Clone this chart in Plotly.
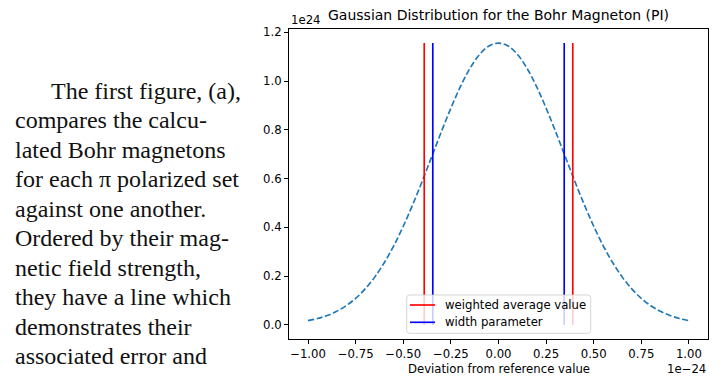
import plotly.graph_objects as go

# ---------------- data (deviation in units of 1e-24, density in units of 1e24) -------------
dev_x = [-1.00, -0.95, -0.90, -0.85, -0.80, -0.75, -0.70, -0.65, -0.60, -0.55, -0.50,
         -0.45, -0.40, -0.35, -0.30, -0.25, -0.20, -0.15, -0.10, -0.05, 0.00,
         0.05, 0.10, 0.15, 0.20, 0.25, 0.30, 0.35, 0.40, 0.45, 0.50,
         0.55, 0.60, 0.65, 0.70, 0.75, 0.80, 0.85, 0.90, 0.95, 1.00]
density = [0.0173, 0.0261, 0.0385, 0.0556, 0.0786, 0.1088, 0.1476, 0.1959, 0.2548, 0.3244, 0.4045,
           0.4938, 0.5902, 0.6910, 0.7921, 0.8890, 0.9772, 1.0517, 1.1084, 1.1439, 1.1555,
           1.1439, 1.1084, 1.0517, 0.9772, 0.8890, 0.7921, 0.6910, 0.5902, 0.4938, 0.4045,
           0.3244, 0.2548, 0.1959, 0.1476, 0.1088, 0.0786, 0.0556, 0.0385, 0.0261, 0.0173]
weighted_avg = [-0.39, 0.39]
width_param = [-0.345, 0.345]
line_top = 1.1555

x_ticks = [-1.00, -0.75, -0.50, -0.25, 0.00, 0.25, 0.50, 0.75, 1.00]
x_tick_labels = ["\u22121.00", "\u22120.75", "\u22120.50", "\u22120.25", "0.00", "0.25", "0.50", "0.75", "1.00"]
y_ticks = [0.0, 0.2, 0.4, 0.6, 0.8, 1.0, 1.2]
y_tick_labels = ["0.0", "0.2", "0.4", "0.6", "0.8", "1.0", "1.2"]

title_text = "Gaussian Distribution for the Bohr Magneton (PI)"
xlabel_text = "Deviation from reference value"
legend_labels = ["weighted average value", "width parameter"]
body_lines = [
    "The first figure, (a),",
    "compares the calcu-",
    "lated Bohr magnetons",
    "for each \u03c0 polarized set",
    "against one another.",
    "Ordered by their mag-",
    "netic field strength,",
    "they have a line which",
    "demonstrates their",
    "associated error and",
]

# ---------------- layout geometry ----------------
W, H = 723, 377
L, R, T, B = 289, 15, 29, 38
PW, PH = W - L - R, H - T - B
FS = 11.7  # base sans font size


def px(x):
    return (x - L) / PW


def py(y):
    return (H - B - y) / PH


def vseg(xs, y0, y1):
    xx, yy = [], []
    for v in xs:
        xx += [v, v, None]
        yy += [y0, y1, None]
    return xx, yy


fig = go.Figure()
fig.add_trace(go.Scatter(x=dev_x, y=density, mode="lines", name="gaussian",
                         line=dict(color="#1f77b4", width=1.65, dash="6.1px,2.6px", shape="spline"),
                         showlegend=False))
xx, yy = vseg(weighted_avg, 0, line_top)
fig.add_trace(go.Scatter(x=xx, y=yy, mode="lines", name=legend_labels[0],
                         line=dict(color="#ff0000", width=1.65), showlegend=False))
xx, yy = vseg(width_param, 0, line_top)
fig.add_trace(go.Scatter(x=xx, y=yy, mode="lines", name=legend_labels[1],
                         line=dict(color="#0000ff", width=1.65), showlegend=False))

font_sans = "DejaVu Sans"
shapes = []
annotations = []

# legend box (rounded)
x0, x1, y0, y1 = 406.7, 590.7, 295.0, 333.3
r = 3
path = (f"M {px(x0 + r)},{py(y0)} L {px(x1 - r)},{py(y0)} Q {px(x1)},{py(y0)} {px(x1)},{py(y0 + r)} "
        f"L {px(x1)},{py(y1 - r)} Q {px(x1)},{py(y1)} {px(x1 - r)},{py(y1)} "
        f"L {px(x0 + r)},{py(y1)} Q {px(x0)},{py(y1)} {px(x0)},{py(y1 - r)} "
        f"L {px(x0)},{py(y0 + r)} Q {px(x0)},{py(y0)} {px(x0 + r)},{py(y0)} Z")
shapes.append(dict(type="path", xref="paper", yref="paper", path=path, layer="above",
                   fillcolor="rgba(255,255,255,0.8)", line=dict(color="rgba(204,204,204,0.8)", width=1)))
for lab, col, yc in [(legend_labels[0], "#ff0000", 305.0), (legend_labels[1], "#0000ff", 322.3)]:
    shapes.append(dict(type="line", xref="paper", yref="paper", x0=px(410), x1=px(435), y0=py(yc), y1=py(yc),
                       line=dict(color=col, width=1.65), layer="above"))
    annotations.append(dict(text=lab, xref="paper", yref="paper", x=px(443), y=py(yc), xanchor="left",
                            yanchor="middle", showarrow=False, font=dict(family=font_sans, size=FS, color="#000")))

# title, axis label, offset texts
annotations.append(dict(text=title_text, xref="paper", yref="paper", x=0.5, y=py(15), xanchor="center",
                        yanchor="middle", showarrow=False, font=dict(family=font_sans, size=14, color="#000")))
annotations.append(dict(text=xlabel_text, xref="paper", yref="paper", x=0.5, y=py(369), xanchor="center",
                        yanchor="middle", showarrow=False, font=dict(family=font_sans, size=FS, color="#000")))
annotations.append(dict(text="1e\u221224", xref="paper", yref="paper", x=px(708), y=py(369), xanchor="right",
                        yanchor="middle", showarrow=False, font=dict(family=font_sans, size=FS, color="#000")))
annotations.append(dict(text="1e24", xref="paper", yref="paper", x=px(289), y=py(20), xanchor="left",
                        yanchor="middle", showarrow=False, font=dict(family=font_sans, size=FS, color="#000")))

# body text on the left
base0, step = 101.0, 29.5
for i, line in enumerate(body_lines):
    xl = 49 if i == 0 else 13
    annotations.append(dict(text=line, xref="paper", yref="paper", x=px(xl), y=py(base0 + i * step - 10.5),
                            xanchor="left", yanchor="middle", showarrow=False,
                            font=dict(family="Liberation Serif", size=24, color="#111")))

axis_common = dict(showline=True, mirror=True, linecolor="#000", linewidth=0.9, ticks="outside",
                   ticklen=4, tickwidth=0.9, tickcolor="#000", showgrid=False, zeroline=False,
                   tickfont=dict(family=font_sans, size=FS, color="#000"))

fig.update_layout(
    width=W, height=H, margin=dict(l=L, r=R, t=T, b=B, pad=0),
    paper_bgcolor="white", plot_bgcolor="white", showlegend=False,
    xaxis=dict(range=[-1.1, 1.1], tickvals=x_ticks, ticktext=x_tick_labels, **axis_common),
    yaxis=dict(range=[-0.0578, 1.2133], tickvals=y_ticks, ticktext=y_tick_labels, **axis_common),
    shapes=shapes, annotations=annotations,
)

fig.write_html("out.html", config={"displayModeBar": False})
